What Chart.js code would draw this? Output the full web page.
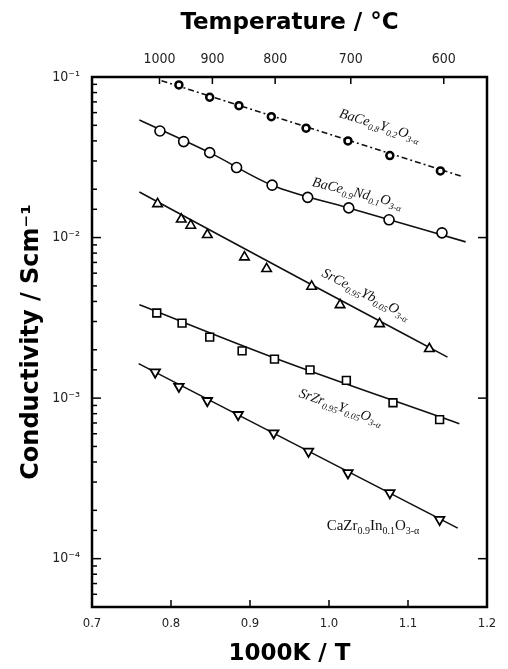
<!DOCTYPE html>
<html lang="en">
<head>
<meta charset="UTF-8">
<title>Conductivity vs 1000/T</title>
<script src="https://cdn.jsdelivr.net/npm/chart.js@4.4.1/dist/chart.umd.min.js"></script>
<style>
    html, body {
        margin: 0;
        padding: 0;
        background: #fff;
    }
</style>
</head>
<body>
<canvas id="myChart" width="508" height="669"></canvas>
<script>
// series names (subscripts are the number runs)
const seriesNames = [
    'BaCe0.8Y0.2O3-α',
    'BaCe0.9Nd0.1O3-α',
    'SrCe0.95Yb0.05O3-α',
    'SrZr0.95Y0.05O3-α',
    'CaZr0.9In0.1O3-α'
];

// measured points, x = 1000K/T, y = conductivity / S cm-1
const invT1 = [0.810, 0.849, 0.886, 0.927, 0.971, 1.024, 1.077, 1.141];
const sigma1 = [0.0892, 0.0748, 0.0663, 0.0566, 0.0480, 0.0400, 0.0324, 0.0260];
const invT2 = [0.786, 0.816, 0.849, 0.883, 0.928, 0.973, 1.025, 1.076, 1.143];
const sigma2 = [0.0461, 0.0396, 0.0338, 0.0273, 0.0212, 0.0178, 0.0153, 0.0129, 0.0107];
const invT3 = [0.783, 0.813, 0.825, 0.846, 0.893, 0.921, 0.978, 1.014, 1.064, 1.127];
const sigma3 = [0.0162, 0.0130, 0.0119, 0.0104, 0.00755, 0.00639, 0.00496, 0.00381, 0.00290, 0.00203];
const invT4 = [0.782, 0.814, 0.849, 0.890, 0.931, 0.976, 1.022, 1.081, 1.140];
const sigma4 = [0.00339, 0.00293, 0.00240, 0.00197, 0.00175, 0.00150, 0.00129, 0.000936, 0.000734];
const invT5 = [0.780, 0.810, 0.846, 0.885, 0.930, 0.974, 1.024, 1.077, 1.140];
const sigma5 = [0.00145, 0.00118, 0.000963, 0.000788, 0.000606, 0.000466, 0.000342, 0.000257, 0.000175];

// fitted curves drawn through the points
const fitX1 = [0.788, 1.170];
const fitY1 = [0.0948, 0.0239];
const fitX2 = [0.760, 0.849, 0.928, 1.025, 1.173];
const fitY2 = [0.0540, 0.0338, 0.0212, 0.0153, 0.0094];
const fitX3 = [0.760, 0.978, 1.150];
const fitY3 = [0.0192, 0.00508, 0.0018];
const fitX4 = [0.760, 0.931, 1.165];
const fitY4 = [0.00381, 0.00178, 0.000693];
const fitX5 = [0.759, 1.163];
const fitY5 = [0.00164, 0.000155];

// top axis temperatures (°C)
const tempTicks = [1000, 900, 800, 700, 600];

const xs = [invT1, invT2, invT3, invT4, invT5];
const ys = [sigma1, sigma2, sigma3, sigma4, sigma5];
const fitXs = [fitX1, fitX2, fitX3, fitX4, fitX5];
const fitYs = [fitY1, fitY2, fitY3, fitY4, fitY5];
const markers = [
    { style: 'circle', radius: 3.5, width: 2.5, rot: 0 },
    { style: 'circle', radius: 5, width: 1.6, rot: 0 },
    { style: 'triangle', radius: 5.5, width: 1.6, rot: 0 },
    { style: 'rect', radius: 5.5, width: 1.6, rot: 0 },
    { style: 'triangle', radius: 5.5, width: 1.8, rot: 180 }
];

const pts = (a, b) => a.map((x, i) => ({ x: x, y: b[i] }));
const isPow10 = v => Math.abs(Math.log10(v) - Math.round(Math.log10(v))) < 1e-6;
const sup = { '1': '¹', '2': '²', '3': '³', '4': '⁴', '5': '⁵' };

const datasets = [];
seriesNames.forEach((name, i) => {
    datasets.push({
        label: name,
        data: pts(xs[i], ys[i]),
        pointStyle: markers[i].style,
        pointRadius: markers[i].radius,
        pointRotation: markers[i].rot,
        pointBorderWidth: markers[i].width,
        pointBorderColor: '#000',
        pointBackgroundColor: '#fff',
        showLine: false,
        order: 0
    });
    datasets.push({
        label: name + ' fit',
        data: pts(fitXs[i], fitYs[i]),
        showLine: true,
        borderColor: '#111',
        borderWidth: 1.6,
        borderDash: i === 0 ? [6, 3, 2, 3] : [],
        cubicInterpolationMode: 'monotone',
        pointRadius: 0,
        order: 1
    });
});

// where each formula sits (data coords of the baseline start) and its tilt
const formulaPlaces = [
    { x: 1.012, y: 0.0564, angle: 17, italic: true, size: 14, sub: 9 },
    { x: 0.978, y: 0.0210, angle: 14, italic: true, size: 14, sub: 9 },
    { x: 0.990, y: 0.00578, angle: 27, italic: true, size: 14, sub: 9 },
    { x: 0.961, y: 0.00102, angle: 19, italic: true, size: 14, sub: 9 },
    { x: 0.997, y: 0.000150, angle: 0, italic: false, size: 15, sub: 10 }
];

function drawFormula(ctx, text, x, y, p) {
    ctx.save();
    ctx.translate(x, y);
    ctx.rotate(p.angle * Math.PI / 180);
    ctx.fillStyle = '#111';
    ctx.textBaseline = 'alphabetic';
    let cx = 0;
    text.split(/([0-9.]+(?:-α)?)/).forEach((part, i) => {
        if (!part) return;
        const isSub = i % 2 === 1;
        ctx.font = (p.italic ? 'italic ' : '') + (isSub ? p.sub : p.size) + 'px "Liberation Serif", serif';
        ctx.fillText(part, cx, isSub ? 3.5 : 0);
        cx += ctx.measureText(part).width;
    });
    ctx.restore();
}

const framePlugin = {
    id: 'frame',
    afterDraw(chart) {
        const { ctx, chartArea: a, scales } = chart;
        const line = (x1, y1, x2, y2) => {
            ctx.beginPath();
            ctx.moveTo(x1, y1);
            ctx.lineTo(x2, y2);
            ctx.stroke();
        };
        ctx.save();
        ctx.strokeStyle = '#000';
        ctx.lineWidth = 1.5;
        scales.y.ticks.forEach(t => {
            const py = scales.y.getPixelForValue(t.value);
            const major = isPow10(t.value);
            line(a.left, py, a.left + (major ? 9 : 5), py);
            if (major) line(a.right, py, a.right - 9, py);
        });
        scales.x.ticks.forEach(t => {
            const px = scales.x.getPixelForValue(t.value);
            line(px, a.bottom, px, a.bottom - 7);
        });
        scales.x2.ticks.forEach(t => {
            const px = scales.x2.getPixelForValue(t.value);
            line(px, a.top, px, a.top + 7);
        });
        ctx.lineWidth = 2.5;
        ctx.strokeRect(a.left, a.top, a.right - a.left, a.bottom - a.top);
        ctx.restore();

        seriesNames.forEach((name, i) => {
            const p = formulaPlaces[i];
            drawFormula(ctx, name, scales.x.getPixelForValue(p.x), scales.y.getPixelForValue(p.y), p);
        });
    }
};

const tickFamily = "'DejaVu Sans Condensed', 'Liberation Sans Narrow', 'DejaVu Sans', sans-serif";
const titleFont = { family: "'DejaVu Sans', sans-serif", size: 23, weight: 'bold' };

new Chart('myChart', {
    type: 'scatter',
    data: { datasets: datasets },
    options: {
        responsive: false,
        animation: false,
        devicePixelRatio: 1,
        layout: { padding: { left: 0, right: 21, top: 0, bottom: 0 } },
        plugins: {
            legend: { display: false },
            tooltip: { enabled: false }
        },
        scales: {
            x: {
                type: 'linear',
                position: 'bottom',
                min: 0.7,
                max: 1.2,
                grid: { display: false, drawTicks: false },
                border: { display: false },
                ticks: {
                    stepSize: 0.1,
                    padding: 9,
                    color: '#222',
                    font: { family: tickFamily, size: 13 },
                    callback: v => v.toFixed(1)
                },
                title: { display: true, text: '1000K / T', color: '#000', font: titleFont, padding: { top: 0, bottom: 1 } },
                afterFit: s => { s.height = 62; }
            },
            x2: {
                type: 'linear',
                position: 'top',
                min: 0.7,
                max: 1.2,
                grid: { display: false, drawTicks: false },
                border: { display: false },
                afterBuildTicks: s => {
                    s.ticks = tempTicks.map(t => ({ value: 1000 / (t + 273.15) }));
                },
                ticks: {
                    padding: 9,
                    color: '#222',
                    font: { family: tickFamily, size: 14 },
                    autoSkip: false,
                    maxRotation: 0,
                    callback: (v, i) => String(tempTicks[i])
                },
                title: { display: true, text: 'Temperature / °C', color: '#000', font: titleFont, padding: { top: 9, bottom: 0 } },
                afterFit: s => { s.height = 77; }
            },
            y: {
                type: 'logarithmic',
                position: 'left',
                min: 5e-5,
                max: 0.1,
                grid: { display: false, drawTicks: false },
                border: { display: false },
                ticks: {
                    padding: 12,
                    color: '#222',
                    font: { family: tickFamily, size: 14 },
                    autoSkip: false,
                    callback: v => {
                        if (!isPow10(v)) return '';
                        const e = Math.round(Math.log10(v));
                        return '10⁻' + sup[String(-e)];
                    }
                },
                title: { display: true, text: 'Conductivity / Scm⁻¹', color: '#000', font: { family: "'DejaVu Sans', sans-serif", size: 24, weight: 'bold' }, padding: { top: 17, bottom: 0 } },
                afterFit: s => { s.width = 92; }
            }
        }
    },
    plugins: [framePlugin]
});
</script>
</body>
</html>
